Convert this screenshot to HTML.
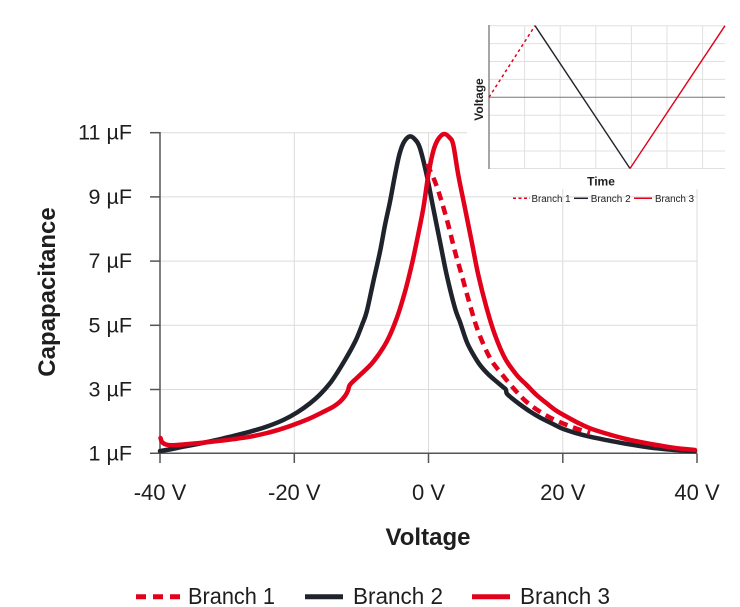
<!DOCTYPE html>
<html><head><meta charset="utf-8"><style>
html,body{margin:0;padding:0;background:#fff;}
svg{display:block;}
text{font-family:"Liberation Sans",sans-serif;fill:#1e1e1e;}
</style></head><body>
<svg id="chart" width="740" height="607" viewBox="0 0 740 607" xmlns="http://www.w3.org/2000/svg">
<!-- gridlines -->
<g stroke="#dcdcdc" stroke-width="1">
<line x1="160" y1="132.7" x2="697" y2="132.7"/>
<line x1="160" y1="196.9" x2="697" y2="196.9"/>
<line x1="160" y1="261.1" x2="697" y2="261.1"/>
<line x1="160" y1="325.3" x2="697" y2="325.3"/>
<line x1="160" y1="389.5" x2="697" y2="389.5"/>
<line x1="294.3" y1="132.7" x2="294.3" y2="453.3"/>
<line x1="428.5" y1="132.7" x2="428.5" y2="453.3"/>
<line x1="562.8" y1="132.7" x2="562.8" y2="453.3"/>
<line x1="697" y1="132.7" x2="697" y2="453.3"/>
</g>
<!-- axes -->
<g stroke="#555" stroke-width="1.5">
<line x1="160" y1="132" x2="160" y2="463"/>
<line x1="150" y1="453.3" x2="697" y2="453.3"/>
<line x1="150" y1="132.7" x2="160" y2="132.7"/>
<line x1="150" y1="196.9" x2="160" y2="196.9"/>
<line x1="150" y1="261.1" x2="160" y2="261.1"/>
<line x1="150" y1="325.3" x2="160" y2="325.3"/>
<line x1="150" y1="389.5" x2="160" y2="389.5"/>
<line x1="294.3" y1="453.3" x2="294.3" y2="463"/>
<line x1="428.5" y1="453.3" x2="428.5" y2="463"/>
<line x1="562.8" y1="453.3" x2="562.8" y2="463"/>
<line x1="697" y1="453.3" x2="697" y2="463"/>
</g>
<!-- y tick labels -->
<g font-size="21.5" text-anchor="end">
<text x="132" y="139.7">11 µF</text>
<text x="132" y="203.9">9 µF</text>
<text x="132" y="268.1">7 µF</text>
<text x="132" y="332.3">5 µF</text>
<text x="132" y="396.5">3 µF</text>
<text x="132" y="460.3">1 µF</text>
</g>
<!-- x tick labels -->
<g font-size="22" text-anchor="middle">
<text x="160" y="500">-40 V</text>
<text x="294.3" y="500">-20 V</text>
<text x="428.5" y="500">0 V</text>
<text x="562.8" y="500">20 V</text>
<text x="697" y="500">40 V</text>
</g>
<text x="428" y="545" font-size="24" font-weight="bold" text-anchor="middle">Voltage</text>
<text x="55" y="292" font-size="24" font-weight="bold" text-anchor="middle" transform="rotate(-90 55 292)">Capapacitance</text>

<!-- curves -->
<g fill="none" stroke-linejoin="round" stroke-linecap="round" stroke-width="4.5">
<polyline class="s" stroke="#1f242c" points="160,451 172,449 183.3,446.7 200,443.5 216.7,440 233,436 250,431.7 267,426.5 283.3,420 297,412.5 310,403.3 320,394.5 330,383.3 338,371.5 345,360 351,349.5 356.7,338.3 362,325 366.7,311.7 373.3,281.7 380,251.7 385,225 390,201.7 395,175 399.5,154 404,142 410,136.4 415.5,140 420,148.3 426.7,175 433.3,208.3 440,241.7 446.7,275 455,308.3 460,322 466.7,341.7 473,354 480,365 488,374 496.7,381.7 503,387 505.8,389.5 506.8,393.5 511,397.5 520,404.5 530,411.5 540,417.5 551,423 561.7,428.3 575,432.8 590,436.7 607,440.2 623.3,443.3 640,446 656.7,448.3 675,450 695,451"/>
<polyline class="s" stroke="#e2001a" stroke-width="4.5" stroke-linecap="butt" stroke-dasharray="9 6" points="427,164 435,181.7 441.7,201.7 448.3,225 455,251.7 461.7,275 470,305 478.3,331.7 490,358 501.7,374 515,390 526.7,402 540,411.7 555,420 572,427 590,433"/>
<polyline class="s" stroke="#e2001a" points="160.5,438 162,442 166,444.5 172,445.3 183.3,444.5 200,443 216.7,441.2 233,439.2 250,436.7 267,433 283.3,428.3 297,423.5 310,418.3 322,412.5 333.3,406.7 340,401.7 345,396 347.8,391 349.5,385.5 353,381.5 360,375 373.3,361.7 386.7,341.7 396.7,318.3 405,291.7 411.7,265 416.7,241.7 423.3,208.3 428.3,175 433.3,151 438,139.5 444,134 449.5,137.5 453.3,145 458.3,175 465,208.3 471.7,241.7 478.3,275 486.7,308.3 495,335 505,358.3 516.7,375 526.7,385 536,394.5 546.7,403.3 556,410.5 566.7,416.7 578,422.8 590,428.3 606,433.5 623.3,438.3 640,442 656.7,445 675,448 695,450"/>
</g>

<!-- inset -->
<rect x="467" y="0" width="273" height="189" fill="#fff"/>
<g stroke="#e0e0e0" stroke-width="1">
<line x1="489" y1="25.7" x2="725" y2="25.7"/>
<line x1="489" y1="43.6" x2="725" y2="43.6"/>
<line x1="489" y1="61.5" x2="725" y2="61.5"/>
<line x1="489" y1="79.4" x2="725" y2="79.4"/>
<line x1="489" y1="115.2" x2="725" y2="115.2"/>
<line x1="489" y1="133.1" x2="725" y2="133.1"/>
<line x1="489" y1="151" x2="725" y2="151"/>
<line x1="489" y1="168.5" x2="725" y2="168.5"/>
<line x1="524.6" y1="25.7" x2="524.6" y2="168.5"/>
<line x1="560.2" y1="25.7" x2="560.2" y2="168.5"/>
<line x1="595.8" y1="25.7" x2="595.8" y2="168.5"/>
<line x1="631.4" y1="25.7" x2="631.4" y2="168.5"/>
<line x1="667" y1="25.7" x2="667" y2="168.5"/>
<line x1="702.6" y1="25.7" x2="702.6" y2="168.5"/>
</g>
<line x1="489" y1="97.3" x2="725" y2="97.3" stroke="#777" stroke-width="1"/>
<line x1="489" y1="25" x2="489" y2="169" stroke="#888" stroke-width="1.5"/>
<line x1="489" y1="97.3" x2="535" y2="25.7" stroke="#e2001a" stroke-width="1.5" stroke-dasharray="3 3"/>
<line x1="535" y1="25.7" x2="630" y2="168.5" stroke="#1f242c" stroke-width="1.4"/>
<line x1="630" y1="168.5" x2="725" y2="25.7" stroke="#e2001a" stroke-width="1.4"/>
<text x="483" y="99.5" font-size="12" font-weight="bold" text-anchor="middle" transform="rotate(-90 483 99.5)">Voltage</text>
<text x="601" y="185.5" font-size="12" font-weight="bold" text-anchor="middle">Time</text>
<line x1="513" y1="198.3" x2="530" y2="198.3" stroke="#e2001a" stroke-width="1.5" stroke-dasharray="3 2.5"/>
<line x1="574" y1="198.3" x2="588" y2="198.3" stroke="#1f242c" stroke-width="1.5"/>
<line x1="634" y1="198.3" x2="652" y2="198.3" stroke="#e2001a" stroke-width="1.5"/>
<g font-size="10" fill="#333">
<text x="531.5" y="201.8" textLength="39" lengthAdjust="spacingAndGlyphs">Branch 1</text>
<text x="590.7" y="201.8" textLength="40" lengthAdjust="spacingAndGlyphs">Branch 2</text>
<text x="655" y="201.8" textLength="39" lengthAdjust="spacingAndGlyphs">Branch 3</text>
</g>

<!-- main legend -->
<line x1="136" y1="596.7" x2="181" y2="596.7" stroke="#e2001a" stroke-width="5" stroke-dasharray="10 7"/>
<line x1="305" y1="596.7" x2="343" y2="596.7" stroke="#1f242c" stroke-width="5"/>
<line x1="472" y1="596.7" x2="510" y2="596.7" stroke="#e2001a" stroke-width="5"/>
<g font-size="23">
<text x="188" y="604" textLength="87" lengthAdjust="spacingAndGlyphs">Branch 1</text>
<text x="353" y="604" textLength="90" lengthAdjust="spacingAndGlyphs">Branch 2</text>
<text x="520" y="604" textLength="90" lengthAdjust="spacingAndGlyphs">Branch 3</text>
</g>
</svg>
<script>
(function(){
  var NS="http://www.w3.org/2000/svg";
  var pls=document.querySelectorAll("polyline.s");
  for(var k=0;k<pls.length;k++){
    var pl=pls[k];
    var raw=pl.getAttribute("points").trim().split(/\s+/);
    var p=raw.map(function(s){var a=s.split(",");return [parseFloat(a[0]),parseFloat(a[1])];});
    var d="M"+p[0][0]+","+p[0][1];
    for(var i=0;i<p.length-1;i++){
      var p0=p[i>0?i-1:i],p1=p[i],p2=p[i+1],p3=p[i+2<p.length?i+2:i+1];
      var c1x=p1[0]+(p2[0]-p0[0])/6,c1y=p1[1]+(p2[1]-p0[1])/6;
      var c2x=p2[0]-(p3[0]-p1[0])/6,c2y=p2[1]-(p3[1]-p1[1])/6;
      d+=" C"+c1x.toFixed(2)+","+c1y.toFixed(2)+" "+c2x.toFixed(2)+","+c2y.toFixed(2)+" "+p2[0]+","+p2[1];
    }
    var path=document.createElementNS(NS,"path");
    for(var j=0;j<pl.attributes.length;j++){
      var at=pl.attributes[j];
      if(at.name!=="points"&&at.name!=="class")path.setAttribute(at.name,at.value);
    }
    path.setAttribute("d",d);
    pl.parentNode.replaceChild(path,pl);
  }
})();
</script>
</body></html>
